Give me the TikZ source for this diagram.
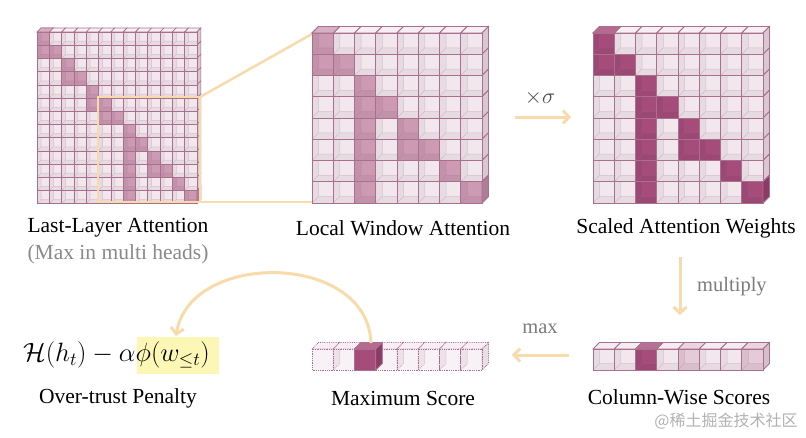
\RequirePackage{fix-cm}
\documentclass[tikz,border=0pt]{standalone}
\usepackage{fontspec}
\setmainfont{Liberation Serif}
\newfontfamily\cjkfont{Noto Sans CJK SC}
\usetikzlibrary{arrows.meta}
\definecolor{lightc}{HTML}{F3E7EE}
\definecolor{edgec}{HTML}{A8708E}
\definecolor{topc}{HTML}{F7EFF3}
\definecolor{sidec}{HTML}{D9C8D1}
\definecolor{medc}{HTML}{CD9AB4}
\definecolor{medtop}{HTML}{D9AFC4}
\definecolor{medside}{HTML}{B07C96}
\definecolor{darkc}{HTML}{A54C7B}
\definecolor{darktop}{HTML}{B8698F}
\definecolor{darkside}{HTML}{8A3C64}
\definecolor{palec}{HTML}{E5CAD8}
\definecolor{arrowc}{HTML}{F8DBAB}
\definecolor{hlc}{HTML}{FDF7B6}
\definecolor{grayt}{HTML}{8A8A8A}
\tikzset{
  celledge/.style={draw=edgec, line width=\celllw},
  innerline/.style={draw=edgec, line width=0.5pt, opacity=0.3},
  topface/.style={fill=topc, draw=edgec, line width=\celllw},
  sideface/.style={fill=sidec, draw=edgec, line width=\celllw},
  flow/.style={draw=arrowc, line width=3pt, -{Straight Barb[length=6pt,width=13pt]}},
  winline/.style={draw=arrowc, line width=2.5pt},
  lab/.style={font=\fontsize{21.5}{24}\selectfont, text=black, inner sep=0pt},
  sublab/.style={font=\fontsize{21.5}{24}\selectfont, text=grayt, inner sep=0pt},
  oplab/.style={font=\fontsize{20.5}{23}\selectfont, text=grayt!90!black, inner sep=0pt},
  dotcell/.style={draw=edgec, line width=0.8pt, densely dotted},
}
\def\celllw{0.8pt}
\newcommand{\cellF}[6]{%
  \fill[#6] ({#1},{#2}) rectangle ({#1+#3},{#2+#4});
  \fill[black, opacity=0.05] ({#1},{#2}) -- ({#1+#5},{#2}) -- ({#1+#5},{#2+#4-#5}) -- ({#1+#3},{#2+#4-#5}) -- ({#1+#3},{#2+#4}) -- ({#1},{#2+#4}) -- cycle;
  \draw[innerline] ({#1+#5},{#2}) -- ({#1+#5},{#2+#4-#5}) -- ({#1+#3},{#2+#4-#5}) ({#1},{#2+#4}) -- ({#1+#5},{#2+#4-#5});
  \draw[celledge] ({#1},{#2}) rectangle ({#1+#3},{#2+#4});
}
\newcommand{\drawmat}[8]{%
  \foreach \c in {0,...,#6}{\filldraw[topface] ({#1+\c*#3},{#2}) -- ++(#5,-#5) -- ++(#3,0) -- ++(-#5,#5) -- cycle;}
  \foreach \r in {0,...,#6}{\filldraw[sideface] ({#1+(#6+1)*#3},{#2+\r*#4}) -- ++(#5,-#5) -- ++(0,#4) -- ++(-#5,#5) -- cycle;}
  \foreach \r in {0,...,#6}{\foreach \c in {0,...,#6}{\cellF{#1+\c*#3}{#2+\r*#4}{#3}{#4}{#5}{lightc}}}
  \foreach \r/\c in {#7}{\cellF{#1+\c*#3}{#2+\r*#4}{#3}{#4}{#5}{#8}}
}
\begin{document}
\begin{tikzpicture}[x=1pt,y=-1pt]
\fill[white] (0,0) rectangle (806,437);
\useasboundingbox (0,0) rectangle (806,437);

% ---- Matrix 1: last-layer attention (13x13)
\def\celllw{0.6pt}
\drawmat{37}{32}{12.3}{13.2}{4}{12}{0/0,1/0,1/1,2/2,3/2,3/3,4/4,5/4,5/5,6/5,6/6,7/7,8/7,8/8,9/7,9/9,10/7,10/9,10/10,11/7,11/11,12/7,12/12}{medc}
\filldraw[fill=medtop, draw=edgec, line width=0.6pt] (37,32) -- ++(4,-4) -- ++(12.3,0) -- ++(-4,4) -- cycle;
\filldraw[fill=medside, draw=edgec, line width=0.6pt] ({37+13*12.3},{32+12*13.2}) -- ++(4,-4) -- ++(0,13.2) -- ++(-4,4) -- cycle;
\def\celllw{0.8pt}

% ---- window box and zoom lines
\coordinate (wTL) at (98,97);
\coordinate (wTR) at (200,97);
\coordinate (wBR) at (200,202);
\coordinate (m2TL) at (312,34);
\coordinate (m2BL) at (312,202);
\draw[winline] (wTL) rectangle (wBR);
\draw[winline] (wTR) -- (m2TL);
\draw[winline] (wBR) -- (m2BL);

% ---- Matrix 2: local window attention (8x8)
\drawmat{312}{33}{21.25}{21.25}{6.5}{7}{0/0,1/0,1/1,2/2,3/2,3/3,4/2,4/4,5/2,5/4,5/5,6/2,6/6,7/2,7/7}{medc}
\filldraw[fill=medtop, draw=edgec, line width=0.8pt] (312,33) -- ++(6.5,-6.5) -- ++(21.25,0) -- ++(-6.5,6.5) -- cycle;
\filldraw[fill=medside, draw=edgec, line width=0.8pt] ({312+8*21.25},{33+7*21.25}) -- ++(6.5,-6.5) -- ++(0,21.25) -- ++(-6.5,6.5) -- cycle;

% ---- Matrix 3: scaled attention weights (8x8)
\drawmat{593}{33}{21.25}{21.25}{6.5}{7}{0/0,1/0,1/1,2/2,3/2,3/3,4/2,4/4,5/2,5/4,5/5,6/2,6/6,7/2,7/7}{darkc}
\filldraw[fill=darktop, draw=edgec, line width=0.8pt] (593,33) -- ++(6.5,-6.5) -- ++(21.25,0) -- ++(-6.5,6.5) -- cycle;
\filldraw[fill=darkside, draw=edgec, line width=0.8pt] ({593+8*21.25},{33+7*21.25}) -- ++(6.5,-6.5) -- ++(0,21.25) -- ++(-6.5,6.5) -- cycle;

% ---- Column-wise scores
\foreach \c/\col in {0/lightc,1/lightc,2/darkc,3/lightc,4/palec,5/lightc,6/lightc,7/palec}{
  \filldraw[fill=\col!80!white, draw=edgec, line width=0.8pt] ({593+\c*21.25},349) -- ++(6.5,-6.5) -- ++(21.25,0) -- ++(-6.5,6.5) -- cycle;
}
\filldraw[fill=sidec!90!edgec, draw=edgec, line width=0.8pt] ({593+8*21.25},349) -- ++(6.5,-6.5) -- ++(0,21) -- ++(-6.5,6.5) -- cycle;
\foreach \c/\col in {0/lightc,1/lightc,2/darkc,3/lightc,4/palec,5/lightc,6/lightc,7/palec}{
  \cellF{593+\c*21.25}{349}{21.25}{21}{6.5}{\col}
}

% ---- Maximum score (dotted cubes)
\foreach \c in {0,...,7}{
  \filldraw[dotcell, fill=sidec!60!white] ({312+(\c+1)*21.25},349) -- ++(6.5,-6.5) -- ++(0,21) -- ++(-6.5,6.5) -- cycle;
  \filldraw[dotcell, fill=topc] ({312+\c*21.25},349) -- ++(6.5,-6.5) -- ++(21.25,0) -- ++(-6.5,6.5) -- cycle;
}
\foreach \c in {0,...,7}{
  \fill[lightc, opacity=0.55] ({312+\c*21.25},349) rectangle ++(21.25,21);
  \draw[dotcell] ({312+\c*21.25},349) rectangle ++(21.25,21);
}
\filldraw[fill=darkside, draw=edgec, line width=0.8pt] ({312+3*21.25},349) -- ++(6.5,-6.5) -- ++(0,21) -- ++(-6.5,6.5) -- cycle;
\filldraw[fill=darktop, draw=edgec, line width=0.8pt] ({312+2*21.25},349) -- ++(6.5,-6.5) -- ++(21.25,0) -- ++(-6.5,6.5) -- cycle;
\filldraw[fill=darkc, draw=edgec, line width=0.8pt] ({312+2*21.25},349) rectangle ++(21.25,21);

% ---- labels
\node[lab] (l1) at (118,228) {Last-Layer Attention};
\node[sublab] (l1b) at (118,254) {(Max in multi heads)};
\node[lab] (l2) at (403,228) {Local Window Attention};
\node[lab] (l3) at (686,228) {Scaled Attention Weights};
\node[lab] (l4) at (679,397) {Column-Wise Scores};
\node[lab] (l5) at (403,398) {Maximum Score};
\node[lab] (l6) at (118,398) {Over-trust Penalty};

% ---- formula
\fill[hlc] (137,337) rectangle (219,374);
\node[inner sep=0pt, anchor=west] (formula) at (23,355) {\fontsize{26.5}{30}\selectfont $\mathcal{H}(h_t)-\alpha\phi(w_{\le t})$};

% ---- arrows
\coordinate (sigA) at (515,117);
\coordinate (sigB) at (571,117);
\draw[flow] (sigA) -- (sigB);
\node[inner sep=0pt, text=black!70] (sig) at (540,98) {\fontsize{22}{24}\selectfont $\times\sigma$};

\coordinate (mulA) at (680,257);
\coordinate (mulB) at (680,315);
\draw[flow] (mulA) -- (mulB);
\node[oplab, anchor=west] (mul) at (697,287) {multiply};

\coordinate (maxA) at (569,355);
\coordinate (maxB) at (512,355);
\draw[flow] (maxA) -- (maxB);
\node[oplab] (maxl) at (540,329) {max};

\coordinate (curA) at (371,343);
\coordinate (curB) at (176,336);
\draw[flow] (curA) .. controls (368,252) and (190,250) .. (curB);

% ---- watermark
\node[inner sep=0pt, text=black!30] (wm) at (726,421) {\cjkfont\fontsize{16}{18}\selectfont @稀土掘金技术社区};
\end{tikzpicture}
\end{document}
